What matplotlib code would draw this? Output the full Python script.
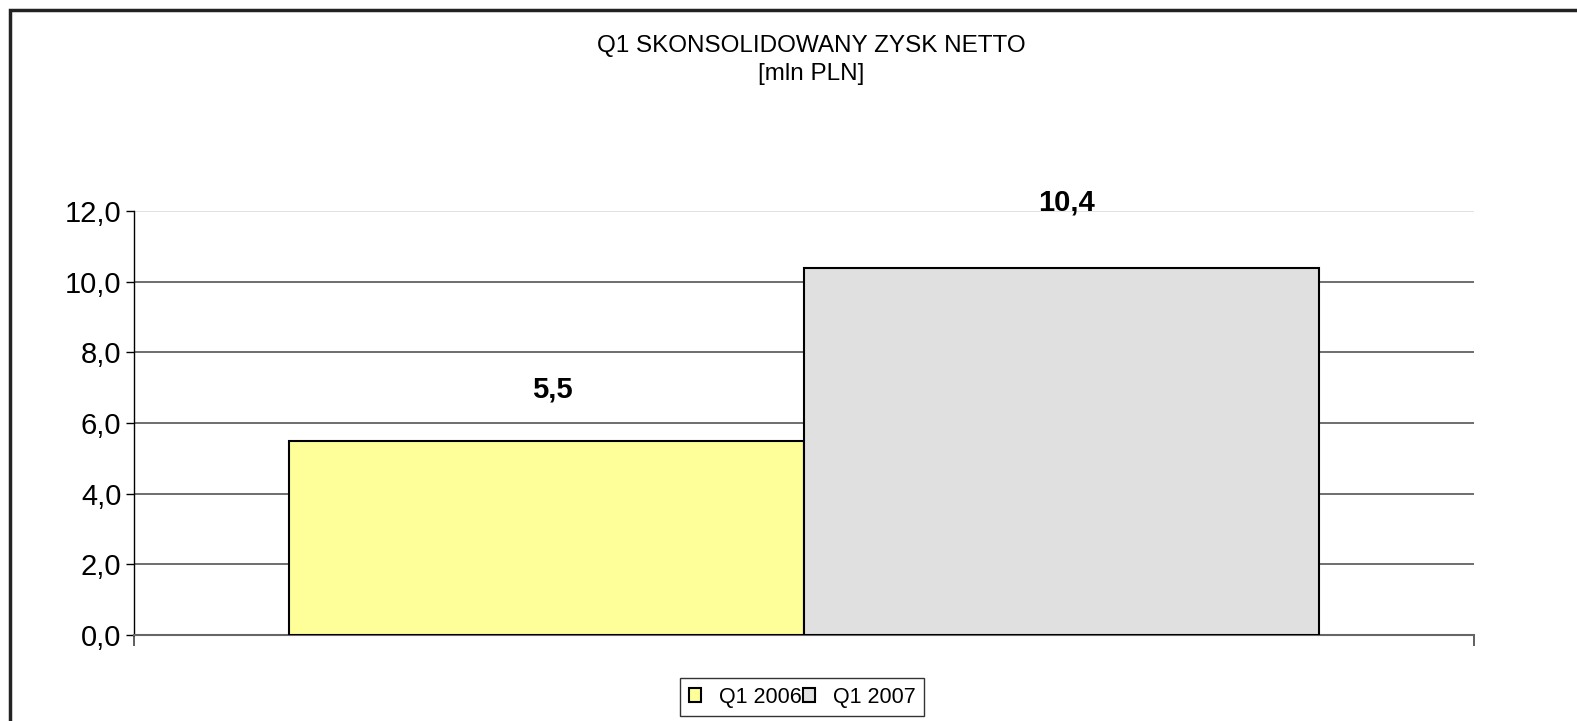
import matplotlib.pyplot as plt
from matplotlib.patches import Rectangle

# dane
series = ["Q1 2006", "Q1 2007"]
values = [5.5, 10.4]
labels = ["5,5", "10,4"]
colors = ["#FFFF99", "#E0E0E0"]
yticks = [0, 2, 4, 6, 8, 10, 12]
ytick_labels = ["0,0", "2,0", "4,0", "6,0", "8,0", "10,0", "12,0"]

plt.rcParams['font.family'] = ['Liberation Sans', 'DejaVu Sans']

W, H = 1577, 721
fig = plt.figure(figsize=(W / 100, H / 100), dpi=100)

# ramka wykresu
fig.patches.append(Rectangle((10 / W, -0.1), 1.2, 1 - 9.5 / H + 0.1, transform=fig.transFigure,
                             fill=False, edgecolor="#222222", linewidth=2.5))

ax = fig.add_axes([134 / W, 1 - 635 / H, 1340 / W, (635 - 211) / H])

width = 0.384
xs = [0.5 - width / 2, 0.5 + width / 2]
bars = ax.bar(xs, values, width=width, color=colors, edgecolor="black", linewidth=1.5, zorder=3)

for x, v, lab in zip(xs, values, labels):
    ax.annotate(lab, (x, v), xytext=(4, 37 if v < 8 else 47), textcoords="offset points",
                ha="center", va="center", fontsize=21, fontweight="bold")

ax.set_xlim(0, 1)
ax.set_ylim(0, 12)
ax.set_yticks(yticks)
ax.set_yticklabels(ytick_labels, fontsize=21)
ax.tick_params(axis="y", length=6, width=1, pad=3)
ax.set_xticks([0, 1])
ax.set_xticklabels([])
ax.tick_params(axis="x", direction="out", length=8, width=1.2, color="#444444")

for y in yticks[1:-1]:
    ax.axhline(y, color="#555555", linewidth=1.2, zorder=1)
ax.axhline(12, color="#DDDDDD", linewidth=1.2, zorder=1)

for s in ["top", "right"]:
    ax.spines[s].set_visible(False)
ax.spines["left"].set_color("black")
ax.spines["left"].set_linewidth(1)
ax.spines["bottom"].set_color("#666666")
ax.spines["bottom"].set_linewidth(1.5)

fig.text(811 / W, 1 - 46 / H, "Q1 SKONSOLIDOWANY ZYSK NETTO", ha="center", va="center", fontsize=17.5)
fig.text(811 / W, 1 - 74 / H, "[mln PLN]", ha="center", va="center", fontsize=17.5)

leg = fig.legend(bars, series, loc="center", bbox_to_anchor=(802 / W, 1 - 697 / H),
                 ncol=2, fontsize=15.5, frameon=True, fancybox=False, edgecolor="black",
                 handlelength=0.6, handleheight=0.6, handletextpad=0.8, columnspacing=0.05,
                 borderpad=0.4, borderaxespad=0)
leg.get_frame().set_linewidth(1)
for h in leg.legend_handles:
    h.set_linewidth(1.5)
    h.set_edgecolor("black")

fig.savefig("out.png", dpi=100)
